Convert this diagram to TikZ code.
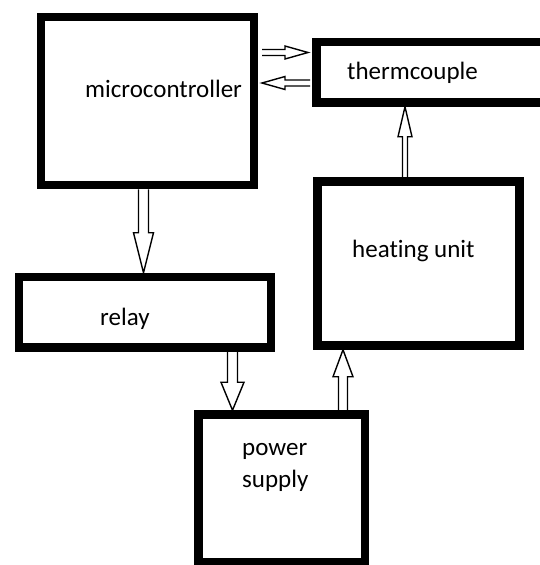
\documentclass[tikz,border=0pt]{standalone}
\usepackage{fontspec}
\setmainfont{Carlito}[Ligatures=NoCommon]
\usetikzlibrary{calc, positioning}

% hollow block arrow: #1 start, #2 tip, #3 shaft half width, #4 head half width, #5 head length
\newcommand{\blockarrow}[5]{%
  \draw[arrowline] ($(#1)!#3!90:(#2)$)
    -- ($($(#2)!#5!(#1)$)!#3!90:(#2)$)
    -- ($($(#2)!#5!(#1)$)!#4!90:(#2)$)
    -- (#2)
    -- ($($(#2)!#5!(#1)$)!#4!-90:(#2)$)
    -- ($($(#2)!#5!(#1)$)!#3!-90:(#2)$)
    -- ($(#1)!#3!-90:(#2)$);}

\tikzset{
  box/.style={draw, line width=8.5pt, inner sep=0pt, fill=white},
  arrowline/.style={line width=1.4pt, line join=miter},
  boxlabel/.style={font=\fontsize{25}{32}\selectfont, inner sep=0pt, anchor=base west, align=left}
}

\begin{document}
\begin{tikzpicture}[x=1pt, y=-1pt]
  \useasboundingbox (0,0) rectangle (540,565);

  % Boxes
  \node[box, minimum width=213pt, minimum height=168pt] (mcu) at (147.5,101) {};
  \node[box, minimum width=229.5pt, minimum height=60.5pt] (thermo) at (431,72.25) {};
  \node[box, minimum width=202pt, minimum height=164pt] (heat) at (418.5,263.5) {};
  \node[box, minimum width=252pt, minimum height=70.5pt] (relay) at (145,312.25) {};
  \node[box, minimum width=166.5pt, minimum height=147.5pt] (power) at (281.75,488.25) {};

  % Labels
  \node[boxlabel] (mcu-text) at (85,97) {microcontroller};
  \node[boxlabel] (thermo-text) at (347,79) {thermcouple};
  \node[boxlabel] (heat-text) at (352,257) {heating unit};
  \node[boxlabel] (relay-text) at (100,325) {relay};
  \node[boxlabel] (power-text) at (242,487) {power\\supply};

  % Arrow ends
  \coordinate (mcu-down) at ($(mcu.south)+(-4,0)$);
  \coordinate (relay-up) at ($(relay.north)+(-1.5,0)$);
  \coordinate (relay-down) at ($(relay.south)+(87.5,0)$);
  \coordinate (power-up-l) at ($(power.north)+(-49.25,0)$);
  \coordinate (power-up-r) at ($(power.north)+(61.25,0)$);
  \coordinate (heat-down) at ($(heat.south)+(-75.5,0)$);
  \coordinate (heat-up) at ($(heat.north)+(-13.5,0)$);
  \coordinate (thermo-down) at ($(thermo.south)+(-26,0)$);
  \coordinate (mcu-out) at ($(mcu.east)+(3.75,-48.5)$);
  \coordinate (thermo-in) at ($(thermo.west)+(-4,-19.75)$);
  \coordinate (thermo-out) at ($(thermo.west)+(-2,10.75)$);
  \coordinate (mcu-in) at ($(mcu.east)+(3.75,-18)$);

  % Arrows
  \blockarrow{mcu-down}{relay-up}{5pt}{10pt}{40pt}
  \blockarrow{relay-down}{power-up-l}{5pt}{11.5pt}{28pt}
  \blockarrow{power-up-r}{heat-down}{4.5pt}{10pt}{27pt}
  \blockarrow{heat-up}{thermo-down}{2.5pt}{7pt}{30pt}
  \blockarrow{mcu-out}{thermo-in}{3pt}{6.5pt}{23pt}
  \blockarrow{thermo-out}{mcu-in}{3pt}{6.5pt}{23pt}
\end{tikzpicture}
\end{document}
